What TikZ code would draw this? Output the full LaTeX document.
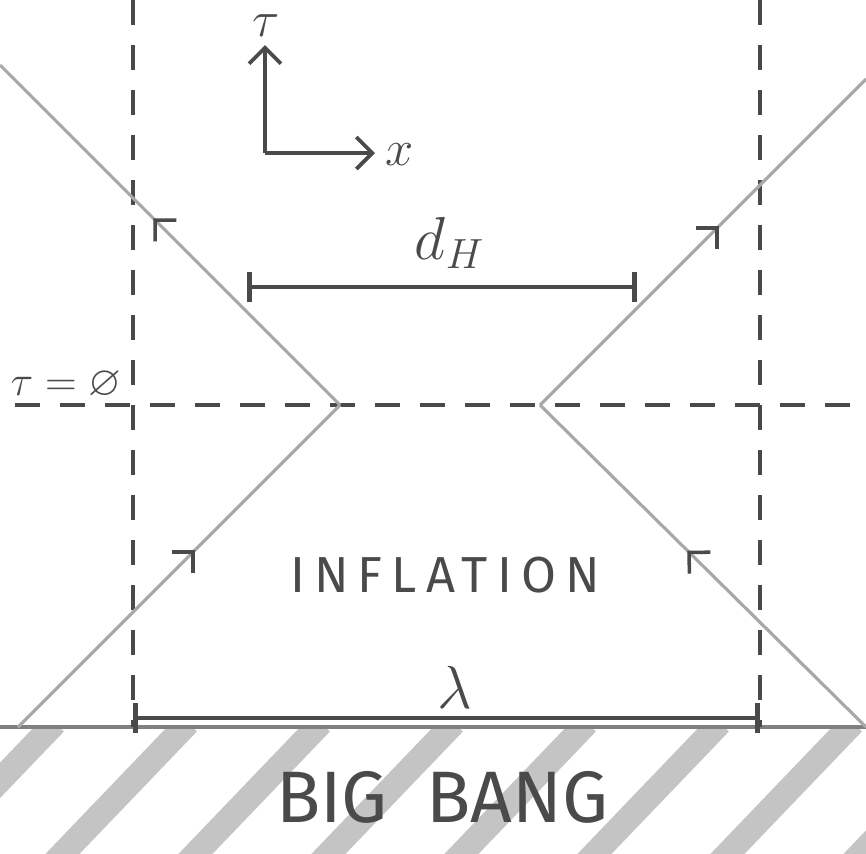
\documentclass[tikz,border=0pt]{standalone}
\usepackage{fontspec}
\usepackage{amssymb}
\usetikzlibrary{arrows.meta,positioning,decorations.markings}
\newfontfamily\handfont{Fira Sans}
\definecolor{pencil}{HTML}{4A4A4A}
\definecolor{lightpencil}{HTML}{A8A8A8}
\definecolor{hatchgray}{HTML}{C4C4C4}

\begin{document}
\begin{tikzpicture}[
  guide/.style={pencil, line width=1pt, dash pattern=on 0.25cm off 0.2cm},
  ray/.style={lightpencil, line width=0.9pt, postaction={decorate},
              decoration={markings, mark=at position 0.55 with
              {\arrow[pencil, line width=1pt]{Straight Barb[length=1.5mm, width=3mm]}}}},
  bar/.style={pencil, line width=1.4pt, {Bar[width=3mm]}-{Bar[width=3mm]}},
  axis/.style={pencil, line width=1.1pt, -{Straight Barb[length=1.6mm, width=3.2mm]}},
  base/.style={gray, line width=1.4pt},
  hatch/.style={hatchgray, line width=7pt},
  lbl/.style={pencil, font=\LARGE, inner sep=1pt},
  word/.style={pencil, font=\handfont\Large, inner sep=1pt}
]
\useasboundingbox (0,0) rectangle (8.66,8.53);
\begin{scope}
  \clip (0,0) rectangle (8.66,1.26);
  \foreach \s in {0,...,7}
    \draw[hatch] ({0.55+1.33*\s},1.30) -- ++(-1.4,-1.46);
\end{scope}
\coordinate (apexL) at (3.40,4.48);
\coordinate (apexR) at (5.40,4.48);
\coordinate (botL)  at (0.18,1.26);
\coordinate (botR)  at (8.66,1.26);
\coordinate (topL)  at (0,7.88);
\coordinate (topR)  at (8.66,7.74);
\coordinate (edgeL) at (0,1.26);
\coordinate (edgeR) at (8.66,1.26);
\coordinate (zeroL) at (0.15,4.48);
\coordinate (zeroR) at (8.66,4.48);
\coordinate (wallLt) at (1.33,8.53);
\coordinate (wallLb) at (1.33,1.26);
\coordinate (wallRt) at (7.60,8.53);
\coordinate (wallRb) at (7.60,1.26);
\coordinate (dhL)  at (2.47,5.66);
\coordinate (dhR)  at (6.37,5.66);
\coordinate (lamL) at (1.33,1.35);
\coordinate (lamR) at (7.60,1.35);
\coordinate (orig) at (2.65,7.00);
\coordinate (tauTip) at (2.65,8.08);
\coordinate (xTip) at (3.75,7.00);
\draw[base] (edgeL) -- (edgeR);
\draw[guide] (wallLt) -- (wallLb);
\draw[guide] (wallRt) -- (wallRb);
\draw[guide] (zeroL) -- (zeroR);
\draw[ray] (botL) -- (apexL);
\draw[ray] (apexL) -- (topL);
\draw[ray] (botR) -- (apexR);
\draw[ray] (apexR) -- (topR);
\draw[bar] (dhL) -- (dhR);
\draw[bar] (lamL) -- (lamR);
\draw[axis] (orig) -- (tauTip);
\draw[axis] (orig) -- (xTip);
\node[lbl, font=\Large] (tau)  at (2.66,8.27) {$\tau$};
\node[lbl, font=\Large] (xlab) at (4.00,6.98) {$x$};
\node[lbl, font=\large] (tzero) at (0.66,4.68) {$\tau=\varnothing$};
\node[lbl] (dh)  at (4.50,6.10) {$d_H$};
\node[lbl] (lam) at (4.55,1.66) {$\lambda$};
\node[word] (infl) at (4.45,2.78) {\addfontfeature{LetterSpace=18}INFLATION};
\node[word, font=\handfont\huge] (bb) at (4.42,0.56) {BIG\ \ BANG};
\end{tikzpicture}
\end{document}
